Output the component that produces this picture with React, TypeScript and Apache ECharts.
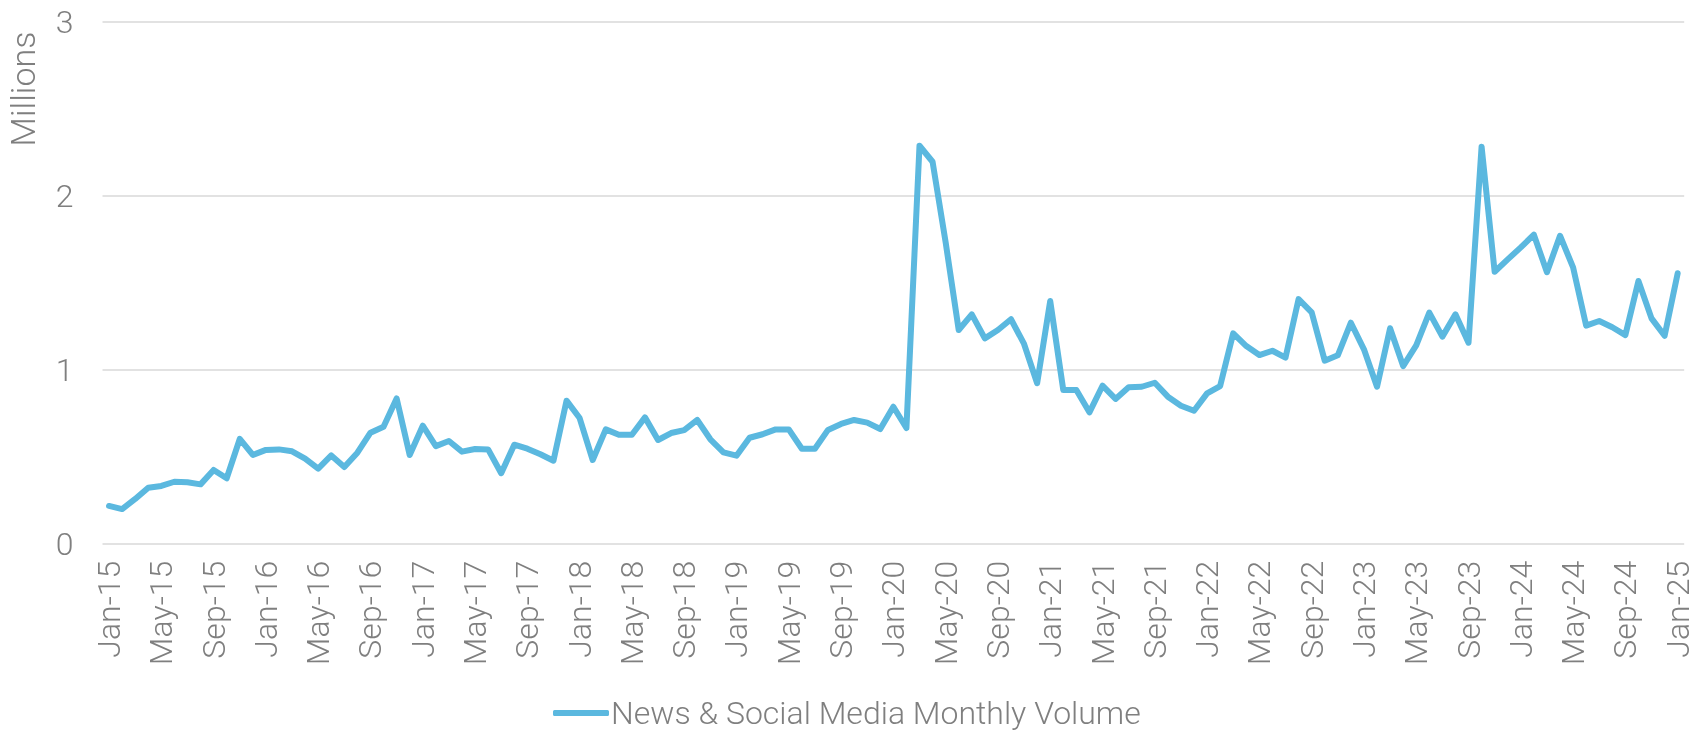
import React, { useEffect, useRef } from "react";
import * as echarts from "echarts";

const MONTHS = ["Jan", "Feb", "Mar", "Apr", "May", "Jun", "Jul", "Aug", "Sep", "Oct", "Nov", "Dec"];
const YEARS = ["15", "16", "17", "18", "19", "20", "21", "22", "23", "24", "25"];

const categories: string[] = [];
YEARS.forEach((y) => MONTHS.forEach((m) => categories.push(`${m}-${y}`)));
categories.splice(121);

const seriesName = "News & Social Media Monthly Volume";

// Millions
const volume = [
  0.217, 0.199, 0.257, 0.322, 0.332, 0.356, 0.353, 0.341, 0.424, 0.376, 0.602, 0.51,
  0.539, 0.542, 0.531, 0.489, 0.431, 0.507, 0.441, 0.523, 0.638, 0.672, 0.835, 0.51,
  0.678, 0.561, 0.59, 0.529, 0.544, 0.542, 0.405, 0.569, 0.546, 0.514, 0.477, 0.822,
  0.722, 0.481, 0.657, 0.626, 0.626, 0.726, 0.596, 0.636, 0.653, 0.711, 0.6, 0.525,
  0.506, 0.609, 0.629, 0.657, 0.657, 0.546, 0.546, 0.654, 0.688, 0.711, 0.696, 0.659,
  0.787, 0.665, 2.287, 2.195, 1.732, 1.228, 1.318, 1.18, 1.228, 1.29, 1.148, 0.922,
  1.395, 0.883, 0.883, 0.755, 0.908, 0.832, 0.899, 0.902, 0.925, 0.845, 0.793, 0.764,
  0.864, 0.906, 1.209, 1.136, 1.084, 1.109, 1.069, 1.406, 1.33, 1.052, 1.083, 1.27,
  1.117, 0.902, 1.238, 1.021, 1.14, 1.328, 1.19, 1.318, 1.155, 2.282, 1.563, 1.634,
  1.703, 1.776, 1.56, 1.77, 1.588, 1.253, 1.28, 1.244, 1.199, 1.51, 1.295, 1.195,
  1.554,
];

const yTicks = { min: 0, max: 3, interval: 1 };

const FONT = "Roboto";
const TEXT_COLOR = "#7f7f7f";
const LINE_COLOR = "#5bb8df";

export default function App() {
  const ref = useRef<HTMLDivElement>(null);
  useEffect(() => {
    if (!ref.current) return;
    const chart = echarts.init(ref.current, null, { renderer: "svg" });
    chart.setOption({
      animation: false,
      textStyle: { fontFamily: FONT, fontWeight: 300 },
      grid: { left: 102.5, right: 20.8, top: 21.7, bottom: 187.3, containLabel: false },
      legend: {
        data: [seriesName],
        left: 548,
        top: 692,
        icon: "roundRect",
        itemWidth: 56,
        itemHeight: 6,
        textStyle: { fontFamily: FONT, fontWeight: 300, fontSize: 32, color: TEXT_COLOR, padding: [0, 0, 0, -3] },
      },
      xAxis: {
        type: "category",
        data: categories,
        boundaryGap: true,
        axisLine: { show: false },
        axisTick: { show: false },
        axisLabel: {
          interval: 3,
          rotate: 90,
          margin: 17,
          fontFamily: FONT,
          fontWeight: 300,
          fontSize: 32,
          color: TEXT_COLOR,
        },
      },
      yAxis: {
        type: "value",
        min: yTicks.min,
        max: yTicks.max,
        interval: yTicks.interval,
        axisLine: { show: false },
        axisTick: { show: false },
        splitLine: { lineStyle: { color: "#d9d9d9", width: 1.5 } },
        axisLabel: { margin: 29, fontFamily: FONT, fontWeight: 300, fontSize: 32, color: TEXT_COLOR },
      },
      graphic: [
        {
          type: "text",
          x: 23,
          y: 89,
          rotation: Math.PI / 2,
          style: {
            text: "Millions",
            fontFamily: FONT,
            fontWeight: 300,
            fontSize: 34,
            fill: TEXT_COLOR,
            textAlign: "center",
            textVerticalAlign: "middle",
          },
        },
      ],
      series: [
        {
          name: seriesName,
          type: "line",
          data: volume,
          showSymbol: false,
          symbol: "none",
          lineStyle: { color: LINE_COLOR, width: 6, cap: "round", join: "round" },
          itemStyle: { color: LINE_COLOR },
        },
      ],
    });
    return () => chart.dispose();
  }, []);
  return <div ref={ref} style={{ position: "fixed", left: 0, top: 0, width: 1705, height: 731 }} />;
}
